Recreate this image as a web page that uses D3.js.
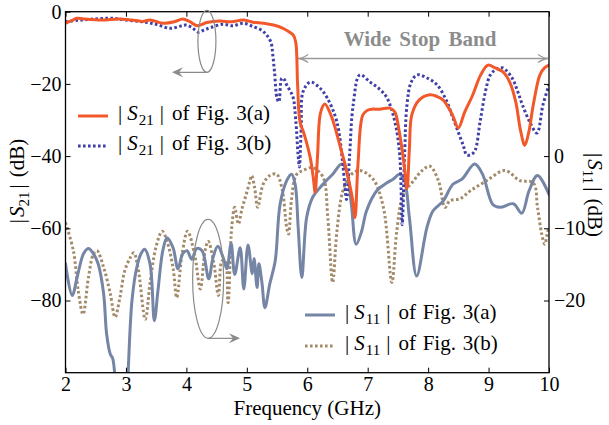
<!DOCTYPE html>
<html><head><meta charset="utf-8">
<script src="https://cdn.jsdelivr.net/npm/d3@7"></script>
<style>
html,body{margin:0;padding:0;background:#fff;}
svg{display:block;}
svg text{font-family:"Liberation Serif",Tinos,Times,"Times New Roman",serif;}
</style></head>
<body>
<svg id="chart" width="609" height="425"></svg>
<script>
// ---- data (frequency in GHz, magnitude in dB) ----
const s21aFreq = [2.0,2.1,2.19,2.3,2.6,2.9,3.2,3.28,3.4,3.62,3.8,3.94,4.05,4.18,4.34,4.55,4.75,4.94,5.1,5.27,5.44,5.6,5.71,5.77,5.81,5.84,5.88,5.95,6.05,6.1,6.13,6.17,6.22,6.29,6.4,6.54,6.65,6.75,6.79,6.84,6.92,7.0,7.07,7.2,7.37,7.45,7.52,7.6,7.65,7.69,7.73,7.85,8.03,8.15,8.25,8.4,8.5,8.6,8.74,8.87,8.99,9.1,9.24,9.35,9.45,9.53,9.6,9.67,9.74,9.85,9.93,10.0];
const s21aDb   = [-3.2,-2.5,-1.8,-2.0,-2.3,-2.0,-2.5,-2.7,-2.3,-3.2,-2.8,-2.0,-2.7,-3.9,-3.0,-2.6,-2.8,-2.3,-2.9,-3.2,-3.7,-4.6,-5.7,-6.5,-8.5,-20,-30.5,-34,-40.5,-46,-50,-40,-28,-25.6,-29,-37,-44,-52,-57,-42,-28.6,-27.3,-27,-27,-26.7,-27.8,-33,-42,-49,-38,-28.6,-24.5,-23,-23.5,-24.5,-28.5,-32.2,-28,-23,-17.5,-14.8,-15.5,-16.7,-19.5,-25,-33,-37,-33,-25.8,-17.5,-15.5,-14.8];

const s21bFreq = [2.0,2.2,2.5,2.74,3.0,3.28,3.5,3.73,3.9,4.0,4.1,4.2,4.3,4.4,4.6,4.77,4.94,5.1,5.25,5.33,5.4,5.43,5.46,5.5,5.53,5.58,5.62,5.66,5.72,5.77,5.81,5.85,5.87,5.9,5.93,6.05,6.2,6.33,6.49,6.59,6.65,6.7,6.76,6.87,7.04,7.2,7.32,7.45,7.53,7.57,7.61,7.65,7.72,7.82,8.0,8.15,8.3,8.41,8.58,8.64,8.72,8.78,8.86,8.95,9.03,9.14,9.24,9.39,9.48,9.56,9.68,9.8,9.9,10.0];
const s21bDb   = [-2.8,-2.4,-2.0,-1.8,-2.3,-2.8,-3.5,-4.6,-4.0,-3.7,-4.5,-5.7,-5.0,-4.4,-3.5,-3.9,-3.2,-4.1,-5.2,-6.5,-8.5,-12,-17,-24,-25,-18.4,-18.8,-20.3,-22,-24,-30,-40,-43,-32,-22.2,-19.5,-21,-23.9,-30.5,-42.5,-52,-40,-25.8,-17.5,-19.5,-21.5,-23.9,-30.5,-39.7,-59,-40,-25.8,-19.5,-17.5,-18.5,-20.3,-24.5,-29.4,-37,-39.7,-39.5,-38.3,-30.5,-22,-17.5,-15.8,-15.6,-18.4,-22,-25.8,-30.5,-33.6,-25.8,-20.3];

const s11aFreq = [2.0,2.11,2.2,2.3,2.38,2.46,2.54,2.63,2.68,2.74,2.78,2.82,2.9,3.0,3.03,3.1,3.18,3.25,3.31,3.4,3.47,3.53,3.61,3.68,3.78,3.86,3.94,4.01,4.09,4.17,4.26,4.37,4.44,4.52,4.61,4.67,4.74,4.8,4.89,4.95,5.02,5.09,5.12,5.17,5.2,5.25,5.3,5.38,5.47,5.55,5.66,5.74,5.8,5.85,5.91,5.99,6.09,6.26,6.42,6.57,6.65,6.73,6.81,6.9,6.98,7.15,7.32,7.42,7.53,7.61,7.69,7.81,7.98,8.08,8.25,8.41,8.56,8.77,8.9,9.07,9.19,9.41,9.55,9.67,9.81,10.0];
const s11aDb   = [-14.9,-19.3,-16.5,-13.5,-12.8,-13.5,-14.9,-19,-24.6,-27.4,-28,-30.5,-35,-35,-31,-20,-15.4,-13.5,-12.9,-15,-22.8,-18.6,-13.1,-11.3,-12.7,-15.6,-13.5,-13.1,-14.3,-12.8,-13.1,-17,-14.1,-12.5,-14.1,-15.6,-12.1,-16.4,-12.7,-18.4,-12.3,-16.3,-14.2,-18.2,-14.9,-17.5,-21,-17.7,-14.5,-6.7,-3.4,-2.5,-3.9,-9.9,-16.8,-8.5,-5.7,-3.9,-2.5,-1.1,-2.0,-6.7,-12.2,-10.4,-7.6,-4.8,-3.7,-3.2,-2.5,-3.4,-8.5,-16.6,-9.9,-7.6,-6.2,-3.9,-3.2,-1.1,-2.5,-6.7,-7.1,-6.6,-7.9,-4.8,-2.7,-5.3];

const s11bFreq = [2.0,2.13,2.21,2.29,2.38,2.46,2.52,2.63,2.74,2.82,2.9,2.98,3.07,3.13,3.2,3.32,3.4,3.5,3.6,3.68,3.78,3.84,3.93,4.02,4.14,4.23,4.31,4.36,4.45,4.53,4.59,4.64,4.69,4.75,4.8,4.86,4.92,4.99,5.05,5.08,5.13,5.18,5.27,5.38,5.49,5.58,5.66,5.69,5.74,5.82,5.95,6.09,6.26,6.34,6.42,6.49,6.59,6.72,6.87,7.09,7.26,7.4,7.48,7.59,7.76,7.9,8.03,8.17,8.28,8.36,8.53,8.7,8.97,9.27,9.52,9.74,9.81,9.88,9.93,9.98,10.0];
const s11bDb   = [-9.2,-13.1,-18.6,-21.9,-16.8,-13.6,-13.1,-15.4,-19,-22.3,-19.6,-15.9,-14.1,-13.4,-15.5,-22.6,-17.5,-12.5,-10.4,-11.8,-15.5,-19.6,-13.5,-10.4,-13.8,-18.4,-13.1,-11.8,-14.6,-19.3,-14.5,-14.5,-20.3,-9.9,-7.1,-9.4,-7.3,-5.3,-3.5,-2.7,-4.4,-7.1,-3.9,-2.7,-2.5,-4.4,-9.9,-10.8,-6.0,-2.6,-1.9,-1.6,-2.9,-8.5,-17.5,-10.5,-4.8,-2.6,-2.0,-3.2,-7.1,-17.5,-10.5,-5.3,-3.4,-2.0,-1.4,-3.4,-7.1,-6.2,-5.9,-4.8,-3.4,-2.0,-3.4,-3.7,-7.1,-10.8,-12.2,-10.4,-10.0];

const xTicks = [2,3,4,5,6,7,8,9,10];
const leftTicks = [0,-20,-40,-60,-80];
const rightTicks = [0,-10,-20];
const legendS21 = ["of Fig. 3(a)","of Fig. 3(b)"];
const legendS11 = ["of Fig. 3(a)","of Fig. 3(b)"];

// ---- layout ----
const svg = d3.select("#chart");
const L = 65.5, R = 549, T = 11.7, B = 372.7;
const x = d3.scaleLinear().domain([2,10]).range([L,R]);
const yL = d3.scaleLinear().domain([-100,0]).range([B,T]);
const yR = d3.scaleLinear().domain([-30,20]).range([B,T]);

const C = {orange:"#f2582a", blue:"#3f3fa8", slate:"#7585a5", tan:"#a38b6a", gray:"#8a8a8a"};

svg.append("defs").append("clipPath").attr("id","clip")
  .append("rect").attr("x",L).attr("y",T).attr("width",R-L).attr("height",B-T);

const plotG = svg.append("g").attr("clip-path","url(#clip)");
const curve = d3.curveCatmullRom.alpha(0.5);
function draw(fs, vs, ys, color, dash){
  const pts = fs.map((f,i)=>[f,vs[i]]);
  const line = d3.line().x(d=>x(d[0])).y(d=>ys(d[1])).curve(curve);
  const p = plotG.append("path").attr("d",line(pts)).attr("fill","none")
    .attr("stroke",color).attr("stroke-width",3).attr("stroke-linejoin","round");
  if(dash) p.attr("stroke-dasharray",dash); else p.attr("stroke-linecap","round");
}
draw(s11bFreq,s11bDb,yR,C.tan,"2.6,2.4");
draw(s11aFreq,s11aDb,yR,C.slate,null);
draw(s21bFreq,s21bDb,yL,C.blue,"2.6,2.4");
draw(s21aFreq,s21aDb,yL,C.orange,null);

// ---- axes ----
const FS = 20;
const axBottom = d3.axisBottom(x).tickValues(xTicks).tickSizeInner(-5).tickSizeOuter(0).tickPadding(4).tickFormat(d3.format("d"));
const axTop = d3.axisTop(x).tickValues(xTicks).tickSizeInner(-5).tickSizeOuter(0).tickFormat("");
const minus = d=> d<0 ? "\u2212"+Math.abs(d) : String(d);
const axLeft = d3.axisLeft(yL).tickValues(leftTicks).tickSizeInner(-5).tickSizeOuter(0).tickPadding(4).tickFormat(minus);
const axRight = d3.axisRight(yR).tickValues([10,0,-10,-20]).tickSizeInner(-5).tickSizeOuter(0).tickPadding(5)
  .tickFormat(d=> rightTicks.includes(d) ? minus(d) : "");

function style(sel){
  sel.select(".domain").remove();
  sel.attr("font-family",null);
  sel.selectAll("line").attr("stroke","#000").attr("stroke-width",1);
  sel.selectAll("text").attr("font-size",FS).attr("fill","#000");
}
svg.append("g").attr("transform",`translate(0,${B})`).call(axBottom).call(style);
svg.append("g").attr("transform",`translate(0,${T})`).call(axTop).call(style);
svg.append("g").attr("transform",`translate(${L},0)`).call(axLeft).call(style);
svg.append("g").attr("transform",`translate(${R},0)`).call(axRight).call(style);
svg.append("rect").attr("x",L).attr("y",T).attr("width",R-L).attr("height",B-T)
  .attr("fill","none").attr("stroke","#000").attr("stroke-width",1.3);

// ---- axis titles ----
svg.append("text").attr("x",(L+R)/2).attr("y",414.5).attr("text-anchor","middle")
  .attr("font-size",21).text("Frequency (GHz)");

function sLabel(sel, sub, tail){
  sel.append("tspan").text("|");
  sel.append("tspan").attr("font-style","italic").attr("dx",2).text("S");
  sel.append("tspan").attr("font-size",15).attr("dy",5).text(sub);
  sel.append("tspan").attr("dy",-5).attr("dx",3).text("|");
  sel.append("tspan").attr("dx",7).text(tail);
}
const ylab = svg.append("text").attr("transform","translate(24,181) rotate(-90)")
  .attr("text-anchor","middle").attr("font-size",21);
sLabel(ylab,"21","(dB)");
const yrlab = svg.append("text").attr("transform","translate(588,195) rotate(90)")
  .attr("text-anchor","middle").attr("font-size",21);
sLabel(yrlab,"11","(dB)");

// ---- legends ----
function legendItem(x0,y0,color,dash,sub,label){
  const ln = svg.append("line").attr("x1",x0).attr("x2",x0+30).attr("y1",y0).attr("y2",y0)
    .attr("stroke",color).attr("stroke-width",3);
  if(dash) ln.attr("stroke-dasharray",dash);
  const t = svg.append("text").attr("x",x0+40).attr("y",y0+4).attr("font-size",21);
  t.append("tspan").text("|");
  t.append("tspan").attr("font-style","italic").attr("dx",5).text("S");
  t.append("tspan").attr("font-size",15).attr("dy",5).attr("dx",1).text(sub);
  t.append("tspan").attr("dy",-5).attr("dx",6).text("|");
  t.append("tspan").attr("dx",8).attr("word-spacing",1.5).text(label);
}
legendItem(78,116,C.orange,null,"21",legendS21[0]);
legendItem(78,146,C.blue,"2.6,2.4","21",legendS21[1]);
legendItem(305,315,C.slate,null,"11",legendS11[0]);
legendItem(305,346,C.tan,"2.6,2.4","11",legendS11[1]);

// ---- annotations ----
const ann = svg.append("g").attr("fill","none").attr("stroke",C.gray).attr("stroke-width",1.2);
ann.append("ellipse").attr("cx",x(4.34)).attr("cy",yL(-8.2)).attr("rx",9).attr("ry",31);
ann.append("ellipse").attr("cx",x(4.36)).attr("cy",yR(-17)).attr("rx",15.5).attr("ry",59.5);
function stealth(xTip,y,dir){
  const l=11,w=5,n=4;
  svg.append("path").attr("d",`M${xTip},${y} L${xTip-dir*l},${y-w} L${xTip-dir*(l-n)},${y} L${xTip-dir*l},${y+w} Z`)
    .attr("fill",C.gray).attr("stroke","none");
}
const yA1 = yL(-8.2)+31;
ann.append("line").attr("x1",x(4.34)).attr("x2",174).attr("y1",yA1).attr("y2",yA1);
stealth(172,yA1,-1);
const yA2 = yR(-17)+59.5;
ann.append("line").attr("x1",x(4.36)).attr("x2",238).attr("y1",yA2).attr("y2",yA2);
stealth(240,yA2,1);

// stop band arrow
const ySB = 58.5, xs1 = x(5.85), xs2 = R-1;
const sb = svg.append("g").attr("stroke","#9a9a9a").attr("stroke-width",1.3).attr("fill","none");
sb.append("line").attr("x1",xs1).attr("x2",xs2).attr("y1",ySB).attr("y2",ySB);
sb.append("path").attr("d",`M${xs1+10},${ySB-4} Q${xs1+4},${ySB} ${xs1},${ySB} Q${xs1+4},${ySB} ${xs1+10},${ySB+4}`);
sb.append("path").attr("d",`M${xs2-10},${ySB-4} Q${xs2-4},${ySB} ${xs2},${ySB} Q${xs2-4},${ySB} ${xs2-10},${ySB+4}`);
svg.append("text").attr("x",420).attr("y",46).attr("text-anchor","middle")
  .attr("font-size",21).attr("font-weight","bold").attr("fill","#8c8c8c").attr("word-spacing",3)
  .text("Wide Stop Band");
</script>
</body></html>
